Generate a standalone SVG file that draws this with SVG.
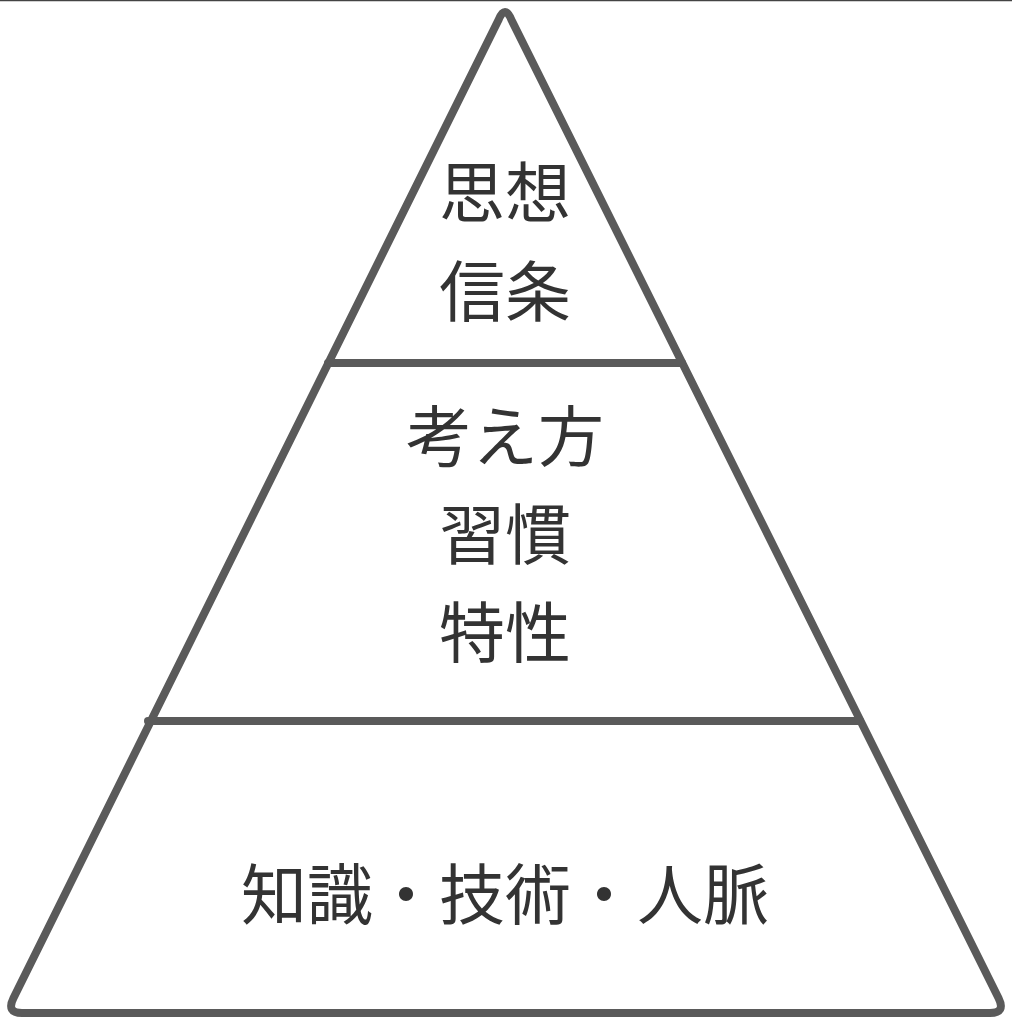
<svg xmlns="http://www.w3.org/2000/svg" width="1012" height="1024" viewBox="0 0 1012 1024">
<style>
.edge{stroke:#5a5a5a;stroke-width:8;fill:none;stroke-linejoin:round;stroke-linecap:round}
.lbl{font-family:"Noto Sans CJK JP","Noto Sans CJK SC",sans-serif;font-size:66px;fill:#333;text-anchor:middle}
</style>
<rect x="0" y="0" width="1012" height="1024" fill="#fff"/>
<line x1="0" y1="0.5" x2="1012" y2="0.5" stroke="#444" stroke-width="1.5"/>
<g id="pyramid">
<path class="edge" d="M498.5 20 Q505 4 511.5 20 L998.5 998 Q1006 1013 990 1013 L22 1013 Q6 1013 13.5 998 Z"/>
</g>
<g id="connectors">
<line class="edge" x1="328" y1="363" x2="682" y2="363" stroke-linecap="butt"/>
<line class="edge" x1="148" y1="721" x2="860" y2="721" stroke-linecap="butt"/>
</g>
<g id="tier-top">
<text class="lbl" x="505" y="217">思想</text>
<text class="lbl" x="505" y="316">信条</text>
</g>
<g id="tier-middle">
<text class="lbl" x="505" y="461">考え方</text>
<text class="lbl" x="505" y="559">習慣</text>
<text class="lbl" x="505" y="657">特性</text>
</g>
<g id="tier-bottom">
<text class="lbl" x="505" y="919">知識・技術・人脈</text>
</g>
</svg>
